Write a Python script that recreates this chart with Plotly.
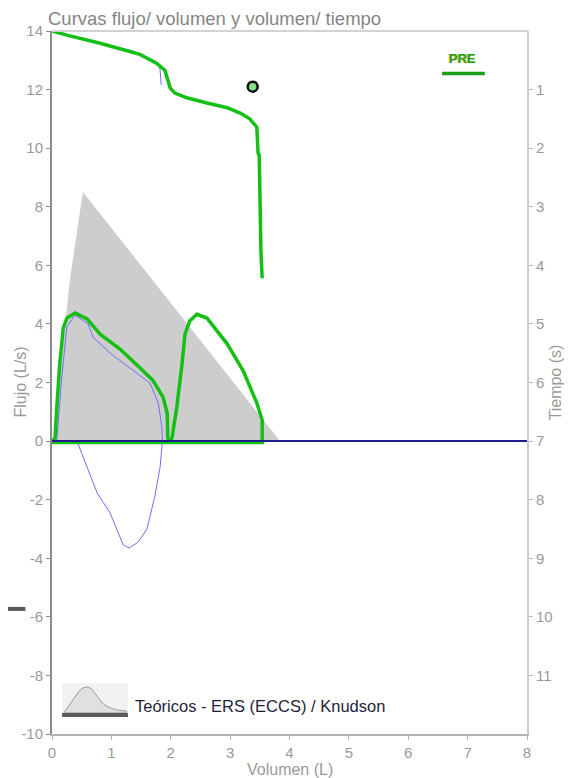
import plotly.graph_objects as go

# ---------------- data ----------------
# theoretical (predicted) flow-volume area
theo_vol = [0.02, 0.30, 0.52, 3.84]
theo_flow = [0.0, 5.5, 8.5, 0.0]

# PRE flow-volume curve (green, two expiratory manoeuvres)
pre_fv_vol = [0.00, 0.05, 0.08, 0.13, 0.19, 0.25, 0.39, 0.59, 0.81, 1.14, 1.48, 1.70,
              1.87, 1.94, 1.95, 1.99, 2.02, 2.10, 2.19, 2.24, 2.32, 2.44, 2.61, 2.95,
              3.22, 3.45, 3.54, 3.54, 0.00]
pre_fv_flow = [0.00, 0.10, 1.13, 2.63, 3.86, 4.20, 4.37, 4.17, 3.65, 3.15, 2.50, 2.07,
               1.50, 0.95, 0.10, 0.00, 0.10, 1.13, 2.63, 3.65, 4.10, 4.33, 4.20, 3.32,
               2.40, 1.30, 0.72, -0.05, -0.05]

# second manoeuvre loop (thin blue, incl. inspiratory part)
blue_fv_vol = [0.08, 0.12, 0.16, 0.25, 0.39, 0.61, 0.69, 0.98, 1.36, 1.65, 1.79, 1.85,
               1.86, 1.82, 1.73, 1.60, 1.45, 1.30, 1.20, 0.98, 0.76, 0.59, 0.44, 0.40]
blue_fv_flow = [0.00, 1.00, 2.08, 3.90, 4.30, 4.00, 3.55, 3.00, 2.42, 1.98, 1.30, 0.48,
                0.00, -0.90, -1.90, -3.00, -3.45, -3.65, -3.55, -2.46, -1.77, -0.90, -0.10, 0.00]

# volume-time curves (right axis, time in s)
pre_vt_vol = [0.00, 0.25, 0.81, 1.14, 1.48, 1.76, 1.90, 1.94, 1.99, 2.07, 2.27, 2.61,
              2.95, 3.17, 3.33, 3.45, 3.47, 3.49, 3.50, 3.52, 3.54]
pre_vt_time = [0.00, 0.07, 0.21, 0.30, 0.40, 0.55, 0.67, 0.80, 0.97, 1.06, 1.14, 1.23,
               1.31, 1.40, 1.50, 1.64, 2.08, 2.12, 2.93, 3.80, 4.22]
blue_vt_vol = [0.00, 0.81, 1.36, 1.60, 1.78, 1.82, 1.84]
blue_vt_time = [0.00, 0.20, 0.34, 0.45, 0.55, 0.66, 0.92]

# predicted point
pred_vol = [3.38]
pred_time = [0.95]

zero_vol = [0, 8]
zero_flow = [0, 0]

x_ticks = [0, 1, 2, 3, 4, 5, 6, 7, 8]
y_ticks = [-10, -8, -6, -4, -2, 0, 2, 4, 6, 8, 10, 12, 14]
y_labels = ["-10", "-8", "-6", "-4", "-2", "0", "2", "4", "6", "8", "10", "12", "14"]
t_ticks = [1, 2, 3, 4, 5, 6, 7, 8, 9, 10, 11]

GREEN = "#14c014"
BLUE = "#6f6ff5"
NAVY = "#1c1c8a"
FONT = "Liberation Sans, Arial, sans-serif"

fig = go.Figure()

fig.add_trace(go.Scatter(x=theo_vol, y=theo_flow, fill="toself", mode="none",
                         fillcolor="#cdcdcd", hoverinfo="skip", showlegend=False))
fig.add_trace(go.Scatter(x=blue_fv_vol, y=blue_fv_flow, mode="lines",
                         line=dict(color=BLUE, width=1), showlegend=False))
fig.add_trace(go.Scatter(x=pre_fv_vol, y=pre_fv_flow, mode="lines",
                         line=dict(color=GREEN, width=3.5), showlegend=False))
fig.add_trace(go.Scatter(x=zero_vol, y=zero_flow, mode="lines",
                         line=dict(color=NAVY, width=2), showlegend=False))
fig.add_trace(go.Scatter(x=blue_vt_vol, y=blue_vt_time, yaxis="y2", mode="lines",
                         line=dict(color=BLUE, width=1), showlegend=False))
fig.add_trace(go.Scatter(x=pre_vt_vol, y=pre_vt_time, yaxis="y2", mode="lines",
                         line=dict(color=GREEN, width=3.5), showlegend=False))
fig.add_trace(go.Scatter(x=pred_vol, y=pred_time, yaxis="y2", mode="markers",
                         marker=dict(size=10, color="#86e086",
                                     line=dict(color="#111111", width=2.5)),
                         showlegend=False))

axis_font = dict(family=FONT, size=15, color="#999999")

fig.update_layout(
    width=565, height=770,
    margin=dict(l=44, r=46, t=23, b=44, autoexpand=False),
    paper_bgcolor="white", plot_bgcolor="white",
    font=dict(family=FONT),
    xaxis=dict(range=[0, 8], tickvals=x_ticks, showgrid=False, zeroline=False,
               automargin=False,
               showline=True, linecolor="#b4b4b4", linewidth=2,
               ticks="outside", ticklen=4, tickcolor="#b4b4b4", tickfont=axis_font),
    yaxis=dict(range=[-10, 14], tickvals=y_ticks, ticktext=y_labels, showgrid=False,
               zeroline=False, automargin=False,
               showline=True, linecolor="#8a8a8a", linewidth=2,
               ticks="outside", ticklen=4, tickcolor="#8a8a8a", tickfont=axis_font),
    yaxis2=dict(range=[12, 0], tickvals=t_ticks, overlaying="y", side="right",
                automargin=False,
                showgrid=False, zeroline=False, showline=True, linecolor="#cccccc",
                linewidth=2, ticks="outside", ticklen=4, tickcolor="#bbbbbb",
                tickfont=axis_font),
)

# top border
fig.add_shape(type="line", xref="paper", yref="paper", x0=0, x1=1, y0=1, y1=1,
              line=dict(color="#d2d2d2", width=2))

# title and axis titles
fig.add_annotation(text="Curvas flujo/ volumen y volumen/ tiempo", xref="paper", yref="paper",
                   x=-0.012, y=1, xanchor="left", yanchor="bottom", yshift=0, showarrow=False,
                   font=dict(family=FONT, size=18.5, color="#858585"))
fig.add_annotation(text="Flujo (L/s)", xref="paper", yref="paper", x=0, y=0.5,
                   xanchor="center", yanchor="middle",
                   xshift=-32, textangle=-90, showarrow=False,
                   font=dict(family=FONT, size=16, color="#9a9a9a"))
fig.add_annotation(text="Tiempo (s)", xref="paper", yref="paper", x=1, y=0.5,
                   xanchor="center", yanchor="middle",
                   xshift=28, textangle=-90, showarrow=False,
                   font=dict(family=FONT, size=16, color="#9a9a9a"))
fig.add_annotation(text="Volumen (L)", xref="paper", yref="paper", x=0.5, y=0,
                   xanchor="center", yanchor="middle",
                   yshift=-35, showarrow=False,
                   font=dict(family=FONT, size=16, color="#9a9a9a"))

# PRE legend
fig.add_annotation(text="<b>PRE</b>", x=6.92, y=13.05, showarrow=False,
                   font=dict(family=FONT, size=13, color="#17a017",
                             shadow="-1px 0px 0px #d8b040"))
fig.add_shape(type="line", x0=6.57, x1=7.29, y0=12.55, y1=12.55,
              line=dict(color="#17a017", width=3.5))

# theoretical legend icon + text
fig.add_shape(type="rect", x0=0.17, x1=1.28, y0=-9.42, y1=-8.26,
              fillcolor="#f2f2f2", line=dict(width=0), layer="above")
fig.add_shape(type="path",
              path="M 0.20,-9.28 L 0.45,-8.55 Q 0.56,-8.30 0.66,-8.45 L 0.85,-8.95 "
                   "Q 0.97,-9.18 1.25,-9.22 L 1.25,-9.28 Z",
              fillcolor="#e0e0e0", line=dict(color="#9a9a9a", width=1), layer="above")
fig.add_shape(type="rect", x0=0.17, x1=1.28, y0=-9.42, y1=-9.28,
              fillcolor="#5a5a5a", line=dict(width=0), layer="above")
fig.add_annotation(text="Teóricos - ERS (ECCS) / Knudson", x=1.36, y=-9.04,
                   xanchor="left", showarrow=False,
                   font=dict(family=FONT, size=16.5, color="#1e1e3c"))

# stray dash in left margin
fig.add_shape(type="line", xref="paper", yref="y", x0=-0.1, x1=-0.056, y0=-5.73, y1=-5.73,
              line=dict(color="#5a5a5a", width=4))

fig.write_html("out.html")
